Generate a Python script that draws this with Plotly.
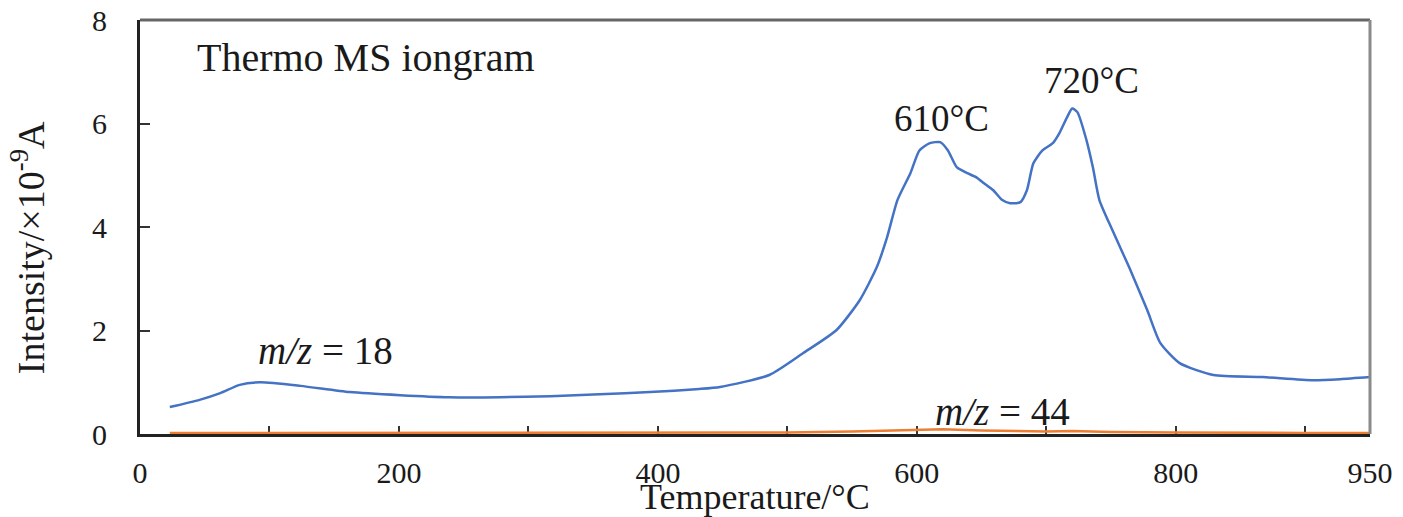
import plotly.graph_objects as go

# ---- data ----
temp_18 = [23, 46, 62, 77, 93, 124, 162, 201, 239, 278, 317, 355, 394, 432, 448, 486, 512, 538,
           556, 569, 577, 585, 595, 602, 610, 618, 624, 631, 639, 646, 651, 659, 666, 672, 680,
           685, 690, 697, 705, 710, 716, 720, 724, 731, 736, 741, 751, 764, 778, 788, 803, 829,
           867, 906, 927, 950]
int_18 = [0.52, 0.66, 0.79, 0.95, 1.0, 0.93, 0.81, 0.75, 0.71, 0.71, 0.73, 0.77, 0.81, 0.87, 0.91,
          1.14, 1.56, 2.01, 2.59, 3.22, 3.80, 4.52, 5.04, 5.48, 5.62, 5.64, 5.48, 5.15, 5.04, 4.96,
          4.86, 4.71, 4.52, 4.46, 4.48, 4.71, 5.23, 5.48, 5.62, 5.81, 6.12, 6.29, 6.22, 5.68, 5.15,
          4.52, 3.94, 3.22, 2.39, 1.76, 1.37, 1.14, 1.10, 1.04, 1.06, 1.10]

temp_44 = [23, 100, 200, 300, 400, 500, 550, 600, 620, 650, 700, 720, 750, 800, 850, 900, 950]
int_44 = [0.02, 0.02, 0.02, 0.02, 0.02, 0.03, 0.05, 0.08, 0.09, 0.07, 0.05, 0.06, 0.04, 0.03, 0.02, 0.02, 0.02]

x_tickvals = [0, 100, 200, 300, 400, 500, 600, 700, 800, 900, 950]
x_ticktext = ["0", "", "200", "", "400", "", "600", "", "800", "", "950"]
y_tickvals = [0, 2, 4, 6, 8]

FONT = "Liberation Serif, Times New Roman, serif"
TXT = "#1a1a1a"

fig = go.Figure()
fig.add_trace(go.Scatter(x=temp_44, y=int_44, mode="lines",
                         line=dict(color="#ED7D31", width=2.5), showlegend=False))
fig.add_trace(go.Scatter(x=temp_18, y=int_18, mode="lines",
                         line=dict(color="#4472C4", width=2.5, shape="spline", smoothing=0.6),
                         showlegend=False))

fig.update_layout(
    width=1403, height=517,
    margin=dict(l=140, r=33, t=20, b=83, autoexpand=False),
    paper_bgcolor="white", plot_bgcolor="white",
    font=dict(family=FONT, color=TXT, size=29),
)
fig.update_xaxes(range=[0, 950], tickvals=x_tickvals, ticktext=x_ticktext, automargin=False,
                 ticks="inside", ticklen=8, tickwidth=2, tickcolor="#333",
                 showline=True, linecolor="#222", linewidth=3, showgrid=False, zeroline=False,
                 ticklabelstandoff=10, layer="below traces",
                 tickfont=dict(family=FONT, size=30, color=TXT))
fig.update_yaxes(range=[0, 8], tickvals=y_tickvals, automargin=False,
                 ticks="inside", ticklen=10, tickwidth=2, tickcolor="#333",
                 showline=True, linecolor="#222", linewidth=3, showgrid=False, zeroline=False,
                 ticklabelstandoff=24, layer="below traces",
                 tickfont=dict(family=FONT, size=30, color=TXT))

# top / right frame lines (gray)
fig.add_shape(type="line", xref="paper", yref="paper", x0=0, x1=1, y0=1, y1=1,
              line=dict(color="#666", width=3))
fig.add_shape(type="line", xref="paper", yref="paper", x0=1, x1=1, y0=0, y1=1,
              line=dict(color="#8a8a8a", width=3))

ann = [
    dict(x=42.5, y=7.27, text="Thermo MS iongram", xanchor="left", yanchor="middle", size=40),
    dict(x=619, y=6.1, text="610°C", xanchor="center", yanchor="middle", size=37),
    dict(x=735, y=6.84, text="720°C", xanchor="center", yanchor="middle", size=37),
    dict(x=143, y=1.62, text="<i>m/z</i> = 18", xanchor="center", yanchor="middle", size=39),
    dict(x=666, y=0.43, text="<i>m/z</i> = 44", xanchor="center", yanchor="middle", size=39),
]
for a in ann:
    fig.add_annotation(x=a["x"], y=a["y"], xref="x", yref="y", text=a["text"],
                       showarrow=False, xanchor=a["xanchor"], yanchor=a["yanchor"],
                       font=dict(family=FONT, size=a["size"], color=TXT))

# axis titles
fig.add_annotation(x=0.5, y=-0.152, xref="paper", yref="paper", text="Temperature/°C",
                   showarrow=False, xanchor="center", yanchor="middle",
                   font=dict(family=FONT, size=36, color=TXT))
fig.add_annotation(x=-0.091, y=0.449, xref="paper", yref="paper",
                   text="Intensity/×10<sup>-9</sup>A", textangle=-90,
                   showarrow=False, xanchor="center", yanchor="middle",
                   font=dict(family=FONT, size=38, color=TXT))

fig.write_html("out.html", config={"displayModeBar": False},
               post_script="document.body.style.margin='0';document.body.style.overflow='hidden';")
